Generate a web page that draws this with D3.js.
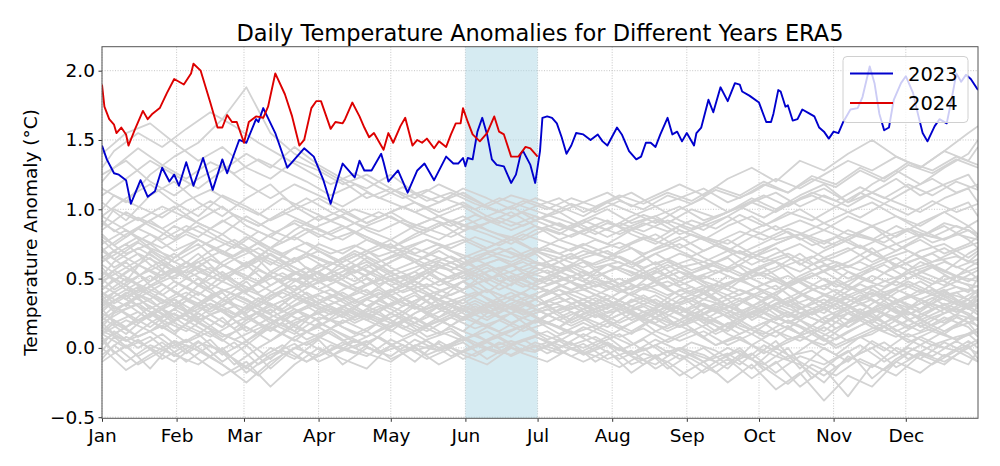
<!DOCTYPE html>
<html>
<head>
<meta charset="utf-8">
<script src="https://cdn.jsdelivr.net/npm/d3@7"></script>
<style>
  html, body { margin: 0; padding: 0; background: #fff; }
  svg { display: block; font-family: "DejaVu Sans", sans-serif; }
</style>
</head>
<body>
<svg id="chart" width="1000" height="466"></svg>
<script>
// ---------------- DATA ----------------
const monthLabels = ["Jan","Feb","Mar","Apr","May","Jun","Jul","Aug","Sep","Oct","Nov","Dec"];
const monthStartDays = [0,31,59,90,120,151,181,212,243,273,304,334];
const yTickValues = [-0.5,0.0,0.5,1.0,1.5,2.0];
const highlightStart = 151; // Jun 1
const highlightEnd = 181;   // Jul 1

// 2023 (blue) – day of year (0 = Jan 1) and anomaly
const days2023 = [0,2,5,7,10,12,16,19,22,25,28,30,32,35,38,42,46,50,52,57,60,64,65,67,72,77,80,84,88,92,95,98,100,104,105,107,109,112,116,117,119,123,127,131,134,138,143,146,148,150,151,152,154,156,158,160,162,164,167,170,172,174,175,178,180,182,183,185,187,189,191,193,195,197,200,203,206,208,210,214,216,219,222,224,226,228,230,232,235,237,239,241,243,246,247,249,252,254,257,260,263,265,266,269,273,276,278,279,281,282,284,285,287,289,291,294,296,298,300,302,304,306,308,311,314,316,319,321,323,325,327,329,332,334,337,339,341,343,346,348,351,353,355,357,359,361,364];
const vals2023 = [1.46,1.36,1.26,1.25,1.21,1.04,1.21,1.09,1.13,1.30,1.20,1.25,1.17,1.34,1.17,1.37,1.14,1.36,1.26,1.50,1.48,1.65,1.63,1.73,1.55,1.30,1.36,1.44,1.38,1.21,1.04,1.22,1.33,1.25,1.23,1.35,1.28,1.28,1.40,1.34,1.20,1.28,1.12,1.28,1.33,1.21,1.38,1.33,1.33,1.37,1.31,1.37,1.36,1.56,1.66,1.54,1.36,1.32,1.31,1.19,1.25,1.40,1.42,1.32,1.19,1.42,1.66,1.67,1.66,1.62,1.52,1.40,1.46,1.55,1.54,1.50,1.54,1.49,1.46,1.59,1.54,1.42,1.36,1.38,1.48,1.48,1.45,1.54,1.66,1.54,1.56,1.49,1.55,1.46,1.55,1.59,1.79,1.70,1.88,1.78,1.91,1.90,1.85,1.82,1.77,1.63,1.63,1.69,1.86,1.85,1.74,1.75,1.64,1.65,1.72,1.69,1.67,1.59,1.56,1.51,1.56,1.55,1.63,1.72,1.73,1.81,2.03,1.91,1.69,1.57,1.59,1.79,1.91,1.96,1.84,1.69,1.55,1.49,1.60,1.65,1.62,1.79,1.98,1.92,1.97,1.94,1.86];

// 2024 (red)
const days2024 = [0,1,3,5,6,8,10,11,14,17,19,21,24,27,30,32,34,37,38,41,45,48,50,52,54,56,59,61,64,67,69,72,76,79,82,84,87,89,91,95,97,100,101,104,107,109,111,113,117,119,121,124,126,129,131,133,135,138,140,143,145,147,149,150,152,154,157,160,163,165,167,170,173,176,178,181];
const vals2024 = [1.90,1.74,1.65,1.61,1.55,1.59,1.54,1.46,1.59,1.71,1.65,1.69,1.73,1.84,1.94,1.92,1.90,1.98,2.05,2.00,1.77,1.59,1.59,1.68,1.63,1.63,1.48,1.63,1.67,1.66,1.74,1.98,1.83,1.67,1.46,1.50,1.73,1.78,1.78,1.58,1.63,1.62,1.65,1.77,1.67,1.59,1.52,1.55,1.43,1.55,1.48,1.60,1.66,1.46,1.50,1.48,1.51,1.44,1.49,1.45,1.54,1.62,1.62,1.73,1.63,1.54,1.49,1.55,1.67,1.56,1.54,1.38,1.38,1.45,1.44,1.38];

// Earlier years (grey), first group sampled on days greyDays
const greyDays = [0,10,20,30,40,50,60,70,80,90,100,110,120,130,140,150,160,170,180,190,200,210,220,230,240,250,260,270,280,290,300,310,320,330,340,350,360,364];
const greyA1 = [0.05,-0.10,0.02,-0.05,-0.12,0.00,-0.18,-0.05,0.03,-0.10,-0.02,0.05,-0.08,0.00,-0.12,-0.03,0.04,-0.06,0.02,-0.04,0.03,-0.08,-0.02,-0.15,-0.05,-0.18,-0.08,-0.22,-0.10,-0.28,-0.15,-0.35,-0.12,-0.20,-0.05,-0.12,0.02,-0.08];
const greyA2 = [-0.10,0.02,-0.15,0.05,-0.08,-0.20,-0.10,-0.28,-0.12,0.00,-0.08,-0.15,0.02,-0.10,0.05,-0.05,-0.12,0.00,-0.03,0.05,-0.05,0.02,-0.12,-0.05,-0.20,-0.10,-0.25,-0.12,-0.30,-0.18,-0.38,-0.20,-0.28,-0.10,-0.18,-0.05,-0.12,-0.02];
const greyA3 = [0.10,0.00,0.08,-0.06,0.05,-0.10,0.02,-0.15,0.00,0.08,0.00,-0.06,0.06,-0.02,0.03,-0.08,0.00,0.05,-0.02,0.06,0.00,0.08,-0.05,0.02,-0.08,0.00,-0.12,-0.04,-0.18,-0.06,-0.12,-0.02,-0.22,-0.08,0.02,-0.06,0.05,0.00];
const greyA4 = [0.00,-0.16,-0.05,0.05,-0.02,-0.12,-0.25,-0.10,0.00,-0.06,0.04,-0.04,-0.10,0.02,-0.02,0.08,0.00,-0.05,0.04,-0.02,-0.10,-0.02,-0.18,-0.06,0.00,-0.10,-0.04,-0.15,0.00,-0.10,-0.20,-0.08,0.00,-0.14,-0.04,-0.10,0.00,0.04];
const greyA5 = [0.15,0.05,0.12,0.00,0.10,-0.05,0.05,-0.08,0.08,0.15,0.05,0.12,0.02,0.10,0.00,0.06,0.12,0.02,0.08,0.00,0.10,0.02,-0.04,0.06,-0.02,-0.10,0.00,-0.08,0.05,-0.15,0.00,-0.10,0.05,-0.05,0.08,0.00,0.10,0.04];
const greyA6 = [-0.05,0.08,0.00,-0.10,0.04,-0.02,-0.15,0.00,-0.08,0.06,-0.12,0.00,-0.06,0.06,-0.02,0.04,-0.08,0.02,0.08,0.02,-0.04,0.04,-0.06,-0.12,0.00,-0.05,-0.15,0.02,-0.06,-0.12,-0.25,-0.06,-0.14,0.00,-0.08,0.04,-0.04,-0.10];
const greyB1 = [0.25,0.15,0.30,0.18,0.10,0.22,0.05,0.18,0.28,0.20,0.30,0.22,0.15,0.25,0.32,0.20,0.28,0.18,0.25,0.30,0.22,0.15,0.25,0.12,0.20,0.08,0.18,0.10,0.22,0.15,0.05,0.18,0.25,0.12,0.20,0.28,0.18,0.22];
const greyB2 = [0.30,0.38,0.22,0.35,0.25,0.15,0.30,0.18,0.10,0.22,0.18,0.28,0.20,0.12,0.22,0.30,0.25,0.35,0.28,0.20,0.28,0.35,0.25,0.18,0.28,0.20,0.12,0.25,0.18,0.10,0.22,0.30,0.20,0.35,0.25,0.18,0.30,0.26];
const greyB3 = [0.18,0.28,0.35,0.20,0.30,0.40,0.22,0.12,0.25,0.32,0.25,0.35,0.28,0.18,0.30,0.22,0.32,0.25,0.18,0.28,0.35,0.25,0.30,0.22,0.15,0.28,0.35,0.20,0.30,0.22,0.30,0.15,0.28,0.22,0.35,0.25,0.32,0.38];
const greyB4 = [0.35,0.25,0.15,0.28,0.40,0.30,0.20,0.32,0.22,0.15,0.28,0.20,0.32,0.40,0.28,0.35,0.22,0.30,0.38,0.25,0.32,0.20,0.28,0.35,0.25,0.32,0.22,0.30,0.20,0.28,0.35,0.25,0.18,0.30,0.22,0.32,0.25,0.20];
const greyB5 = [0.10,0.20,0.12,0.25,0.15,0.05,0.18,0.28,0.15,0.08,0.20,0.12,0.25,0.18,0.10,0.22,0.15,0.08,0.20,0.15,0.08,0.18,0.10,0.22,0.30,0.18,0.25,0.15,0.08,0.20,0.12,0.25,0.15,0.08,0.18,0.10,0.22,0.15];
const greyB6 = [0.40,0.30,0.45,0.32,0.22,0.35,0.48,0.30,0.38,0.28,0.35,0.42,0.30,0.38,0.28,0.20,0.32,0.40,0.30,0.36,0.28,0.38,0.30,0.22,0.35,0.42,0.30,0.25,0.35,0.28,0.38,0.30,0.42,0.32,0.26,0.38,0.30,0.35];
const greyB7 = [0.22,0.10,0.25,0.35,0.20,0.28,0.12,0.22,0.30,0.38,0.30,0.20,0.12,0.25,0.35,0.28,0.20,0.30,0.22,0.15,0.25,0.32,0.20,0.28,0.38,0.25,0.15,0.30,0.38,0.25,0.18,0.30,0.40,0.28,0.15,0.25,0.35,0.28];
const greyB8 = [0.28,0.40,0.30,0.20,0.32,0.42,0.35,0.25,0.38,0.30,0.22,0.35,0.42,0.30,0.22,0.35,0.42,0.28,0.35,0.42,0.30,0.22,0.35,0.28,0.20,0.32,0.25,0.38,0.28,0.20,0.30,0.38,0.28,0.20,0.35,0.42,0.28,0.32];
const greyB9 = [0.05,0.15,0.25,0.12,0.22,0.10,0.02,0.15,0.05,0.18,0.10,0.02,0.15,0.22,0.12,0.05,0.15,0.25,0.12,0.05,0.15,0.08,0.18,0.28,0.15,0.22,0.10,0.02,0.12,0.05,0.15,0.05,0.10,0.20,0.12,0.22,0.15,0.08];
const greyB10 = [0.35,0.45,0.28,0.38,0.50,0.35,0.25,0.38,0.45,0.32,0.40,0.30,0.38,0.28,0.40,0.48,0.35,0.25,0.35,0.42,0.35,0.28,0.40,0.32,0.25,0.35,0.30,0.22,0.32,0.40,0.28,0.20,0.32,0.42,0.35,0.28,0.38,0.42];
const greyC1 = [0.50,0.62,0.45,0.55,0.68,0.52,0.40,0.55,0.65,0.50,0.58,0.45,0.55,0.62,0.50,0.42,0.55,0.60,0.48,0.55,0.62,0.50,0.42,0.55,0.48,0.40,0.52,0.45,0.38,0.50,0.42,0.55,0.48,0.60,0.52,0.45,0.58,0.62];
const greyC2 = [0.60,0.48,0.70,0.58,0.45,0.62,0.72,0.55,0.48,0.60,0.52,0.65,0.55,0.45,0.58,0.65,0.52,0.45,0.58,0.50,0.45,0.55,0.62,0.50,0.58,0.48,0.42,0.55,0.62,0.48,0.55,0.45,0.58,0.50,0.62,0.55,0.48,0.52];
const greyC3 = [0.42,0.55,0.65,0.48,0.38,0.52,0.60,0.45,0.55,0.42,0.50,0.60,0.48,0.55,0.45,0.52,0.60,0.50,0.42,0.48,0.55,0.45,0.38,0.48,0.55,0.45,0.35,0.42,0.50,0.40,0.32,0.45,0.38,0.48,0.40,0.52,0.45,0.38];
const greyC4 = [0.70,0.58,0.48,0.65,0.75,0.60,0.50,0.68,0.58,0.48,0.62,0.70,0.58,0.50,0.62,0.55,0.48,0.60,0.68,0.55,0.48,0.60,0.52,0.62,0.50,0.58,0.65,0.52,0.58,0.68,0.55,0.62,0.72,0.58,0.65,0.55,0.68,0.72];
const greyC5 = [0.38,0.50,0.40,0.30,0.45,0.55,0.42,0.35,0.48,0.55,0.45,0.38,0.50,0.42,0.35,0.48,0.40,0.52,0.45,0.38,0.42,0.48,0.38,0.30,0.42,0.35,0.45,0.38,0.28,0.38,0.45,0.35,0.28,0.40,0.48,0.38,0.42,0.45];
const greyC6 = [0.80,0.68,0.75,0.62,0.72,0.82,0.70,0.60,0.72,0.65,0.58,0.68,0.75,0.62,0.70,0.60,0.65,0.72,0.62,0.55,0.65,0.70,0.60,0.68,0.58,0.62,0.70,0.60,0.68,0.75,0.65,0.72,0.62,0.70,0.78,0.68,0.75,0.80];
const greyC7 = [0.55,0.45,0.58,0.68,0.55,0.48,0.62,0.52,0.42,0.55,0.65,0.55,0.45,0.52,0.60,0.50,0.58,0.48,0.55,0.62,0.50,0.42,0.50,0.58,0.45,0.52,0.45,0.55,0.48,0.40,0.50,0.42,0.52,0.45,0.55,0.48,0.40,0.50];
const greyC8 = [0.45,0.35,0.48,0.58,0.45,0.35,0.28,0.40,0.50,0.42,0.35,0.45,0.52,0.40,0.48,0.55,0.42,0.35,0.45,0.52,0.42,0.35,0.45,0.40,0.32,0.40,0.30,0.38,0.45,0.32,0.25,0.38,0.45,0.35,0.28,0.40,0.35,0.42];
const greyC9 = [0.65,0.75,0.60,0.50,0.62,0.70,0.58,0.72,0.62,0.70,0.60,0.52,0.62,0.72,0.65,0.58,0.68,0.62,0.70,0.65,0.58,0.65,0.72,0.60,0.68,0.62,0.55,0.65,0.72,0.60,0.70,0.78,0.68,0.60,0.70,0.75,0.65,0.70];
const greyC10 = [0.48,0.58,0.68,0.55,0.62,0.50,0.58,0.68,0.55,0.48,0.55,0.62,0.52,0.58,0.65,0.58,0.50,0.55,0.62,0.58,0.52,0.60,0.55,0.48,0.55,0.50,0.58,0.50,0.42,0.52,0.60,0.50,0.58,0.65,0.55,0.62,0.55,0.50];
const greyC11 = [0.32,0.42,0.52,0.40,0.30,0.42,0.35,0.25,0.38,0.48,0.38,0.30,0.40,0.48,0.38,0.32,0.42,0.35,0.30,0.38,0.45,0.38,0.30,0.38,0.28,0.20,0.30,0.22,0.32,0.25,0.18,0.28,0.35,0.25,0.32,0.40,0.30,0.35];
const greyC12 = [0.75,0.85,0.72,0.65,0.78,0.68,0.80,0.70,0.62,0.75,0.68,0.78,0.70,0.62,0.72,0.78,0.70,0.65,0.72,0.68,0.75,0.68,0.62,0.72,0.80,0.70,0.78,0.68,0.75,0.82,0.72,0.80,0.88,0.75,0.82,0.78,0.85,0.80];
const greyD1 = [0.85,0.98,0.88,0.78,0.92,1.02,0.88,0.80,0.92,0.85,0.78,0.88,0.95,0.85,0.78,0.88,0.82,0.75,0.85,0.90,0.82,0.75,0.85,0.92,0.82,0.88,0.95,0.85,0.92,1.00,0.90,0.98,1.05,0.95,0.88,0.98,1.05,0.95];
const greyD2 = [1.05,0.92,1.10,1.20,1.05,0.95,1.08,1.18,1.02,0.92,1.00,0.90,0.98,1.05,0.95,0.88,0.95,1.02,0.92,0.85,0.92,1.00,0.90,0.95,1.02,0.92,0.98,1.08,1.00,1.10,1.18,1.05,1.12,1.22,1.10,1.18,1.25,1.15];
const greyD3 = [0.95,1.08,1.18,1.05,0.95,1.10,1.02,0.92,1.00,1.08,0.98,0.90,0.98,0.88,0.95,1.02,0.92,0.85,0.92,0.98,0.88,0.80,0.88,0.95,0.85,0.78,0.88,0.95,0.85,0.92,0.85,0.95,0.88,0.80,0.90,0.98,0.88,0.92];
const greyD4 = [1.25,1.35,1.20,1.10,1.22,1.32,1.18,1.08,1.18,1.10,1.02,1.12,1.05,0.98,1.05,1.12,1.02,0.95,1.02,1.08,0.98,1.05,1.12,1.02,1.08,1.15,1.05,1.12,1.22,1.15,1.25,1.35,1.28,1.38,1.30,1.42,1.35,1.45];
const greyD5 = [0.70,0.82,0.92,0.80,0.88,0.78,0.70,0.82,0.90,0.80,0.88,0.78,0.72,0.82,0.90,0.80,0.72,0.80,0.88,0.78,0.85,0.92,0.82,0.75,0.85,0.78,0.70,0.80,0.88,0.78,0.85,0.78,0.88,0.95,0.85,0.78,0.88,0.82];
const greyD6 = [1.15,1.05,1.25,1.38,1.48,1.65,1.88,1.55,1.40,1.30,1.20,1.08,1.15,1.05,0.98,1.05,0.95,0.88,0.95,0.88,0.82,0.90,0.85,0.78,0.88,0.80,0.75,0.85,0.78,0.82,0.90,0.82,0.78,0.88,0.80,0.90,0.85,0.80];
const greyD7 = [1.10,1.22,1.35,1.25,1.15,1.28,1.40,1.30,1.45,1.32,1.22,1.15,1.25,1.12,1.05,1.15,1.08,1.00,1.08,1.02,0.95,1.05,0.98,0.90,1.00,1.08,0.98,1.05,1.12,1.02,1.10,1.02,1.12,1.05,0.98,1.08,1.15,1.05];
const greyD8 = [0.90,0.80,0.92,1.02,0.90,0.82,0.95,0.85,0.78,0.88,0.95,0.85,0.78,0.88,0.95,0.85,0.90,0.98,0.88,0.82,0.92,0.85,0.95,1.02,0.92,0.85,0.95,1.05,0.98,1.08,1.15,1.05,1.18,1.28,1.18,1.30,1.40,1.50];
const greyD9 = [1.40,1.55,1.62,1.48,1.35,1.45,1.30,1.22,1.35,1.28,1.18,1.25,1.15,1.08,1.18,1.10,1.02,1.10,1.05,0.98,1.05,1.12,1.02,1.10,1.18,1.10,1.22,1.30,1.20,1.35,1.28,1.40,1.50,1.38,1.30,1.42,1.55,1.60];
const greyD10 = [0.62,0.72,0.82,0.70,0.78,0.68,0.60,0.72,0.80,0.70,0.62,0.70,0.78,0.68,0.75,0.65,0.72,0.80,0.70,0.62,0.70,0.65,0.58,0.68,0.75,0.65,0.58,0.68,0.62,0.55,0.65,0.58,0.68,0.75,0.65,0.72,0.62,0.68];
const greyE1 = [0.20,0.32,0.20,0.10,0.25,0.15,0.30,0.20,0.12,0.28,0.35,0.25,0.18,0.30,0.20,0.12,0.25,0.32,0.22,0.15,0.28,0.20,0.12,0.22,0.30,0.22,0.15,0.25,0.18,0.10,0.22,0.15,0.25,0.32,0.20,0.12,0.22,0.30];
const greyE2 = [0.55,0.42,0.35,0.48,0.40,0.30,0.42,0.52,0.40,0.32,0.42,0.50,0.38,0.45,0.35,0.42,0.50,0.42,0.35,0.45,0.38,0.30,0.40,0.48,0.38,0.45,0.38,0.30,0.40,0.48,0.38,0.30,0.40,0.32,0.42,0.35,0.28,0.38];
const greyE3 = [0.12,0.05,0.18,0.28,0.18,0.08,0.15,0.05,0.18,0.25,0.15,0.08,0.18,0.10,0.20,0.12,0.05,0.12,0.20,0.10,0.18,0.10,0.02,0.12,0.05,0.12,0.02,0.10,0.00,0.08,0.02,0.12,0.20,0.10,0.02,0.12,0.18,0.10];
const greyE4 = [0.95,0.85,0.75,0.88,0.80,0.92,0.82,0.72,0.85,0.95,0.88,0.80,0.72,0.80,0.88,0.95,0.85,0.78,0.70,0.78,0.72,0.65,0.75,0.82,0.72,0.80,0.72,0.65,0.75,0.82,0.75,0.85,0.78,0.70,0.80,0.88,0.78,0.72];

// Earlier years (grey), second group sampled on days greyDays2
const greyDays2 = [0,5,15,25,35,45,55,65,75,85,95,105,115,125,135,145,155,165,175,185,195,205,215,225,235,245,255,265,275,285,295,305,315,325,335,345,355,364];
const greyF1 = [-0.02,0.08,-0.06,0.04,-0.10,0.02,-0.08,-0.20,-0.05,0.04,-0.06,0.05,-0.03,0.06,-0.05,0.02,0.10,0.00,0.06,-0.04,0.04,-0.10,0.00,-0.12,-0.02,-0.08,-0.18,-0.05,-0.12,0.00,-0.22,-0.08,0.02,-0.10,0.00,-0.06,0.05,-0.04];
const greyF2 = [0.08,-0.04,0.06,-0.08,0.02,-0.06,0.04,-0.12,-0.02,-0.10,0.02,-0.04,0.08,-0.02,0.05,-0.06,0.02,0.08,-0.02,0.04,-0.06,0.02,-0.08,0.00,-0.15,-0.04,-0.10,0.00,-0.16,-0.06,-0.02,-0.14,-0.04,0.04,-0.08,0.02,-0.02,0.06];
const greyF3 = [0.02,0.12,0.00,0.10,-0.04,0.06,-0.12,0.00,0.10,0.02,0.12,0.00,0.08,-0.04,0.06,0.12,0.02,-0.04,0.06,0.12,0.02,0.08,-0.02,0.06,-0.06,0.04,-0.02,-0.12,0.02,-0.08,0.04,-0.05,0.08,-0.02,0.10,0.02,0.08,0.12];
const greyF4 = [-0.08,0.02,-0.12,-0.02,0.06,-0.06,-0.18,-0.08,0.02,-0.10,-0.02,0.06,-0.04,0.02,-0.08,0.00,-0.06,0.04,-0.04,-0.10,0.00,-0.06,-0.14,-0.04,-0.10,-0.22,-0.10,-0.02,-0.14,-0.26,-0.12,-0.20,-0.08,-0.16,-0.04,-0.12,-0.02,-0.10];
const greyF5 = [0.12,0.20,0.08,0.16,0.04,0.12,0.00,0.10,0.18,0.06,0.14,0.04,0.12,0.20,0.08,0.14,0.02,0.10,0.16,0.06,0.12,0.02,0.10,-0.02,0.06,0.14,0.02,0.08,-0.04,0.06,0.12,0.00,0.08,0.16,0.04,0.12,0.06,0.14];
const greyG1 = [0.22,0.30,0.18,0.28,0.36,0.24,0.14,0.26,0.34,0.22,0.30,0.20,0.28,0.36,0.24,0.16,0.26,0.34,0.24,0.30,0.20,0.28,0.18,0.26,0.16,0.24,0.12,0.22,0.30,0.18,0.26,0.14,0.24,0.32,0.20,0.28,0.34,0.24];
const greyG2 = [0.15,0.25,0.32,0.20,0.12,0.24,0.30,0.18,0.10,0.22,0.28,0.18,0.26,0.14,0.22,0.30,0.20,0.12,0.22,0.28,0.18,0.26,0.32,0.20,0.14,0.22,0.28,0.16,0.10,0.20,0.12,0.22,0.28,0.18,0.26,0.16,0.24,0.20];
const greyG3 = [0.35,0.26,0.38,0.28,0.20,0.32,0.24,0.36,0.28,0.40,0.30,0.22,0.34,0.26,0.38,0.30,0.24,0.34,0.40,0.30,0.36,0.26,0.32,0.22,0.30,0.20,0.28,0.36,0.26,0.18,0.28,0.36,0.24,0.30,0.38,0.28,0.34,0.30];
const greyG4 = [0.28,0.18,0.26,0.14,0.24,0.32,0.20,0.10,0.22,0.30,0.20,0.28,0.18,0.26,0.16,0.24,0.32,0.22,0.28,0.18,0.26,0.16,0.24,0.30,0.20,0.12,0.20,0.10,0.18,0.26,0.14,0.06,0.16,0.24,0.14,0.22,0.28,0.20];
const greyG5 = [0.40,0.32,0.42,0.34,0.26,0.38,0.44,0.34,0.26,0.36,0.42,0.32,0.40,0.30,0.38,0.44,0.36,0.28,0.36,0.42,0.32,0.38,0.30,0.36,0.28,0.34,0.26,0.32,0.40,0.30,0.36,0.28,0.38,0.30,0.36,0.42,0.32,0.38];
const greyG6 = [0.18,0.10,0.20,0.28,0.16,0.08,0.18,0.26,0.16,0.24,0.14,0.22,0.30,0.20,0.12,0.22,0.30,0.22,0.14,0.24,0.16,0.24,0.14,0.22,0.12,0.20,0.10,0.18,0.08,0.16,0.04,0.14,0.22,0.12,0.20,0.12,0.22,0.16];
const greyG7 = [0.30,0.40,0.30,0.22,0.34,0.26,0.36,0.28,0.20,0.30,0.38,0.28,0.20,0.30,0.38,0.26,0.34,0.26,0.32,0.24,0.30,0.22,0.30,0.38,0.28,0.20,0.30,0.24,0.32,0.22,0.28,0.36,0.26,0.18,0.28,0.36,0.26,0.32];
const greyG8 = [0.26,0.34,0.44,0.32,0.40,0.30,0.22,0.32,0.42,0.34,0.26,0.34,0.26,0.36,0.28,0.34,0.26,0.32,0.24,0.30,0.36,0.28,0.34,0.26,0.32,0.24,0.32,0.22,0.28,0.36,0.24,0.32,0.22,0.30,0.24,0.32,0.40,0.30];
const greyG9 = [0.10,0.18,0.08,0.16,0.24,0.14,0.06,0.14,0.22,0.12,0.20,0.10,0.18,0.08,0.16,0.22,0.14,0.20,0.12,0.18,0.10,0.16,0.08,0.14,0.04,0.12,0.02,0.10,0.18,0.06,0.12,0.02,0.10,0.18,0.08,0.14,0.06,0.12];
const greyG10 = [0.38,0.28,0.36,0.46,0.36,0.28,0.38,0.30,0.40,0.32,0.24,0.34,0.42,0.32,0.26,0.34,0.40,0.32,0.26,0.34,0.28,0.36,0.28,0.20,0.30,0.36,0.26,0.20,0.28,0.34,0.24,0.32,0.40,0.30,0.24,0.32,0.26,0.34];
const greyH1 = [0.58,0.48,0.60,0.50,0.62,0.52,0.44,0.56,0.48,0.58,0.50,0.60,0.52,0.44,0.54,0.62,0.52,0.58,0.50,0.56,0.48,0.56,0.46,0.54,0.44,0.52,0.42,0.50,0.58,0.46,0.54,0.44,0.52,0.60,0.50,0.58,0.48,0.56];
const greyH2 = [0.46,0.56,0.46,0.38,0.50,0.42,0.54,0.46,0.36,0.46,0.54,0.44,0.36,0.46,0.54,0.44,0.52,0.42,0.50,0.40,0.48,0.38,0.46,0.52,0.42,0.34,0.44,0.50,0.40,0.32,0.42,0.36,0.46,0.38,0.48,0.40,0.48,0.44];
const greyH3 = [0.66,0.58,0.68,0.60,0.52,0.64,0.56,0.66,0.58,0.50,0.60,0.68,0.58,0.50,0.60,0.56,0.64,0.56,0.62,0.54,0.60,0.52,0.58,0.50,0.58,0.64,0.54,0.60,0.52,0.60,0.66,0.56,0.62,0.54,0.62,0.68,0.58,0.64];
const greyH4 = [0.52,0.62,0.72,0.62,0.54,0.64,0.56,0.48,0.58,0.66,0.56,0.48,0.58,0.66,0.58,0.50,0.58,0.64,0.56,0.50,0.58,0.50,0.44,0.52,0.60,0.50,0.56,0.48,0.54,0.46,0.52,0.60,0.50,0.44,0.54,0.60,0.52,0.58];
const greyH5 = [0.72,0.64,0.76,0.66,0.58,0.70,0.78,0.68,0.60,0.68,0.60,0.70,0.62,0.70,0.64,0.56,0.66,0.72,0.64,0.58,0.66,0.60,0.66,0.58,0.64,0.56,0.62,0.70,0.62,0.68,0.60,0.66,0.74,0.64,0.70,0.62,0.70,0.76];
const greyH6 = [0.42,0.50,0.40,0.48,0.56,0.46,0.38,0.46,0.54,0.44,0.50,0.42,0.50,0.40,0.46,0.38,0.46,0.52,0.44,0.50,0.42,0.48,0.40,0.46,0.38,0.44,0.34,0.42,0.36,0.44,0.34,0.42,0.34,0.40,0.46,0.38,0.44,0.40];
const greyH7 = [0.62,0.70,0.60,0.52,0.62,0.54,0.64,0.72,0.62,0.54,0.62,0.54,0.62,0.68,0.60,0.66,0.58,0.64,0.56,0.62,0.68,0.58,0.62,0.54,0.62,0.54,0.60,0.52,0.60,0.66,0.56,0.62,0.56,0.64,0.56,0.62,0.66,0.60];
const greyH8 = [0.50,0.42,0.52,0.60,0.50,0.58,0.48,0.40,0.50,0.58,0.48,0.56,0.46,0.52,0.44,0.52,0.58,0.48,0.54,0.46,0.52,0.44,0.50,0.42,0.48,0.40,0.46,0.38,0.46,0.52,0.42,0.48,0.40,0.48,0.54,0.46,0.52,0.48];
const greyH9 = [0.78,0.70,0.80,0.72,0.82,0.74,0.66,0.76,0.68,0.76,0.68,0.74,0.66,0.72,0.78,0.70,0.64,0.72,0.66,0.72,0.64,0.70,0.76,0.68,0.74,0.66,0.74,0.68,0.76,0.84,0.74,0.80,0.72,0.80,0.86,0.76,0.82,0.78];
const greyI1 = [0.88,1.00,0.92,1.02,0.94,0.86,0.96,0.88,0.98,0.90,0.82,0.90,0.84,0.92,0.86,0.80,0.88,0.82,0.78,0.86,0.80,0.88,0.82,0.90,0.84,0.92,0.86,0.96,0.88,0.98,0.92,1.02,0.94,1.04,0.96,1.06,0.98,1.04];
const greyI2 = [1.00,1.10,1.02,0.94,1.06,1.14,1.04,0.96,1.08,1.00,0.92,1.00,0.94,1.02,0.94,0.88,0.96,0.90,0.98,0.92,0.86,0.94,0.88,0.96,0.90,1.00,0.94,1.02,1.10,1.02,1.12,1.06,1.16,1.08,1.18,1.10,1.20,1.14];
const greyI3 = [1.20,1.30,1.44,1.32,1.22,1.34,1.26,1.36,1.28,1.20,1.10,1.18,1.08,1.16,1.06,1.12,1.04,0.98,1.06,1.00,1.08,1.02,1.10,1.04,1.12,1.06,1.16,1.10,1.20,1.12,1.24,1.18,1.30,1.22,1.34,1.28,1.38,1.32];
const greyI4 = [0.82,0.74,0.86,0.78,0.88,0.80,0.72,0.84,0.76,0.86,0.78,0.84,0.76,0.70,0.78,0.72,0.80,0.74,0.82,0.76,0.70,0.78,0.72,0.80,0.74,0.82,0.76,0.84,0.78,0.86,0.80,0.74,0.82,0.76,0.86,0.80,0.88,0.82];
const greyI5 = [1.30,1.42,1.55,1.45,1.58,1.70,1.60,1.48,1.38,1.28,1.18,1.26,1.16,1.08,1.14,1.06,1.00,1.08,1.02,0.96,1.04,0.98,1.06,1.00,1.10,1.04,1.14,1.08,1.18,1.12,1.22,1.16,1.28,1.20,1.32,1.26,1.36,1.30];
const greyI6 = [0.92,0.84,0.94,0.86,0.96,1.06,0.96,0.88,0.98,1.08,0.98,0.90,0.98,0.90,0.84,0.92,0.86,0.94,0.88,0.96,0.90,0.82,0.90,0.84,0.92,0.86,0.94,1.02,0.94,1.04,1.10,1.02,1.12,1.04,1.14,1.22,1.12,1.18];

const greySeries1 = [greyA1,greyA2,greyA3,greyA4,greyA5,greyA6,greyB1,greyB2,greyB3,greyB4,greyB5,greyB6,greyB7,greyB8,greyB9,greyB10,greyC1,greyC2,greyC3,greyC4,greyC5,greyC6,greyC7,greyC8,greyC9,greyC10,greyC11,greyC12,greyD1,greyD2,greyD3,greyD4,greyD5,greyD6,greyD7,greyD8,greyD9,greyD10,greyE1,greyE2,greyE3,greyE4];
const greySeries2 = [greyF1,greyF2,greyF3,greyF4,greyF5,greyG1,greyG2,greyG3,greyG4,greyG5,greyG6,greyG7,greyG8,greyG9,greyG10,greyH1,greyH2,greyH3,greyH4,greyH5,greyH6,greyH7,greyH8,greyH9,greyI1,greyI2,greyI3,greyI4,greyI5,greyI6];

// ---------------- LAYOUT ----------------
const L = 102, R = 978, T = 46.7, B = 418.3;
const svg = d3.select("#chart");
const x = d3.scaleLinear().domain([0, 364]).range([L, R]);
const y = d3.scaleLinear().domain([-0.508, 2.173]).range([B, T]);

svg.append("defs").append("clipPath").attr("id", "clip")
  .append("rect").attr("x", L).attr("y", T).attr("width", R - L).attr("height", B - T);

// grid
const grid = svg.append("g");
grid.selectAll(".gx").data(monthStartDays).join("line")
  .attr("x1", d => x(d)).attr("x2", d => x(d)).attr("y1", T).attr("y2", B)
  .attr("stroke", "#b8b8b8").attr("stroke-width", 0.8).attr("stroke-dasharray", "1,1.6");
grid.selectAll(".gy").data(yTickValues).join("line")
  .attr("x1", L).attr("x2", R).attr("y1", d => y(d)).attr("y2", d => y(d))
  .attr("stroke", "#b8b8b8").attr("stroke-width", 0.8).attr("stroke-dasharray", "1,1.6");

const plot = svg.append("g").attr("clip-path", "url(#clip)");

// highlighted period
plot.append("rect")
  .attr("x", x(highlightStart)).attr("width", x(highlightEnd) - x(highlightStart))
  .attr("y", T).attr("height", B - T)
  .attr("fill", "#add8e6").attr("opacity", 0.5);

// grey earlier years
function greyPath(daysArr) {
  return d3.line().defined((d, i) => i < daysArr.length).x((d, i) => x(daysArr[i])).y(d => y(d));
}
const gl1 = greyPath(greyDays), gl2 = greyPath(greyDays2);
plot.selectAll(".grey1").data(greySeries1).join("path")
  .attr("d", d => gl1(d))
  .attr("fill", "none").attr("stroke", "#d3d3d3").attr("stroke-width", 1.8).attr("stroke-linejoin", "round");
plot.selectAll(".grey2").data(greySeries2).join("path")
  .attr("d", d => gl2(d))
  .attr("fill", "none").attr("stroke", "#d3d3d3").attr("stroke-width", 1.8).attr("stroke-linejoin", "round");

const seriesLine = d3.line().x(d => x(d[0])).y(d => y(d[1]));
plot.append("path")
  .attr("d", seriesLine(days2023.map((d, i) => [d, vals2023[i]])))
  .attr("fill", "none").attr("stroke", "#0000cd").attr("stroke-width", 1.9).attr("stroke-linejoin", "round");
plot.append("path")
  .attr("d", seriesLine(days2024.map((d, i) => [d, vals2024[i]])))
  .attr("fill", "none").attr("stroke", "#dd0000").attr("stroke-width", 1.9).attr("stroke-linejoin", "round");

// axes
const xAxis = d3.axisBottom(x).tickValues(monthStartDays).tickFormat((d, i) => monthLabels[i]).tickSize(3.5).tickPadding(3);
const yAxis = d3.axisLeft(y).tickValues(yTickValues).tickFormat(d3.format(".1f")).tickSize(3.5).tickPadding(3.5);
const gx = svg.append("g").attr("transform", `translate(0,${B})`).call(xAxis);
const gy = svg.append("g").attr("transform", `translate(${L},0)`).call(yAxis);
[gx, gy].forEach(g => {
  g.select(".domain").remove();
  g.selectAll("line").attr("stroke", "#333");
  g.selectAll("text").attr("fill", "#000").style("font-size", "18.5px").style("font-family", "'DejaVu Sans', sans-serif");
});
gx.selectAll("text").attr("dy", "0.95em");

// frame
svg.append("rect").attr("x", L).attr("y", T).attr("width", R - L).attr("height", B - T)
  .attr("fill", "none").attr("stroke", "#555").attr("stroke-width", 1);

// title and axis label
svg.append("text").attr("x", (L + R) / 2).attr("y", 41).attr("text-anchor", "middle")
  .style("font-size", "22.5px").text("Daily Temperature Anomalies for Different Years ERA5");
svg.append("text").attr("transform", `translate(37,${(T + B) / 2}) rotate(-90)`)
  .attr("text-anchor", "middle").style("font-size", "18.5px").text("Temperature Anomaly (°C)");

// legend
const lg = svg.append("g");
lg.append("rect").attr("x", 843).attr("y", 56.5).attr("width", 125).attr("height", 66).attr("rx", 4)
  .attr("fill", "#fff").attr("fill-opacity", 0.8).attr("stroke", "#d0d0d0").attr("stroke-width", 1);
const legendItems = [{label: "2023", color: "#0000cd", yy: 73.5}, {label: "2024", color: "#dd0000", yy: 103}];
legendItems.forEach(it => {
  lg.append("line").attr("x1", 850).attr("x2", 893).attr("y1", it.yy).attr("y2", it.yy)
    .attr("stroke", it.color).attr("stroke-width", 1.9);
  lg.append("text").attr("x", 908).attr("y", it.yy).attr("dy", "0.36em")
    .style("font-size", "19.5px").text(it.label);
});
</script>
</body>
</html>
